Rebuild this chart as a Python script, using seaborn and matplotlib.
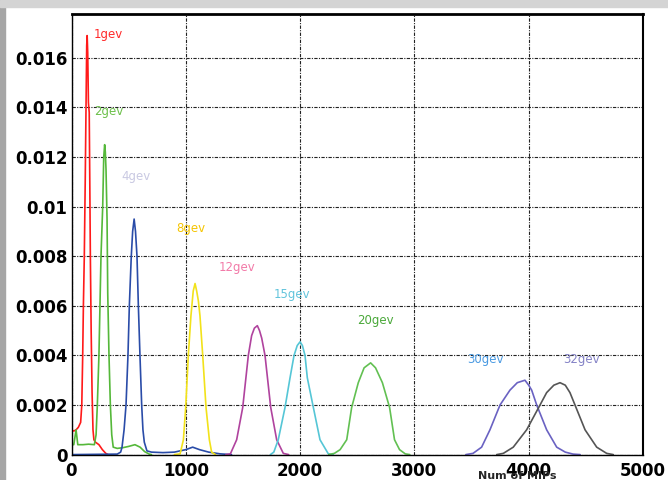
import matplotlib
matplotlib.use("Agg")
import matplotlib.pyplot as plt
import seaborn as sns
import pandas as pd
from matplotlib.patches import Rectangle
from matplotlib.ticker import MultipleLocator

# ---------------- data ----------------
energies = ["1gev", "2gev", "4gev", "8gev", "12gev", "15gev", "20gev", "30gev", "32gev"]

x_1gev = [0, 20, 40, 60, 80, 90, 98, 104, 112, 120, 127, 133, 137, 142, 148, 155, 160, 165, 172, 180, 188, 196, 210, 240, 270, 300, 320]
y_1gev = [0.0010, 0.00095, 0.0010, 0.0011, 0.0013, 0.0020, 0.0040, 0.0060, 0.0080, 0.0110, 0.0140, 0.0165, 0.0169, 0.0162,
          0.0142, 0.0138, 0.0110, 0.0080, 0.0050, 0.0025, 0.0010, 0.0006, 0.0005, 0.0004, 0.0002, 0.00005, 0.0]

x_2gev = [0, 20, 40, 55, 100, 150, 200, 215, 226, 240, 249, 258, 273, 282, 290, 296, 302, 311, 317, 328, 340, 352, 365,
          400, 450, 500, 555, 600, 640, 680, 700]
y_2gev = [0.0004, 0.0004, 0.0010, 0.0004, 0.0004, 0.00042, 0.0004, 0.0008, 0.0020, 0.0040, 0.0060, 0.0080, 0.0100, 0.0120,
          0.0125, 0.0122, 0.0115, 0.0095, 0.0065, 0.0040, 0.0020, 0.0008, 0.0003, 0.00025, 0.00028, 0.00033, 0.00040,
          0.00030, 0.00012, 0.00002, 0.0]

x_4gev = [0, 400, 430, 442, 460, 477, 494, 506, 523, 535, 548, 560, 573, 585, 599, 614, 625, 637, 660, 700, 800, 900,
          1000, 1060, 1120, 1200, 1300, 1400]
y_4gev = [0.0, 0.00002, 0.0001, 0.0003, 0.0010, 0.0020, 0.0040, 0.0060, 0.0080, 0.0090, 0.0095, 0.0090, 0.0080, 0.0060,
          0.0040, 0.0020, 0.0010, 0.0005, 0.00015, 0.0001, 0.00008, 0.0001, 0.0002, 0.0003, 0.0002, 0.0001, 0.00003, 0.0]

x_8gev = [900, 950, 979, 999, 1022, 1045, 1065, 1081, 1095, 1110, 1124, 1148, 1177, 1206, 1226, 1260]
y_8gev = [0.0, 0.00003, 0.0006, 0.0019, 0.0040, 0.0056, 0.0066, 0.0069, 0.0066, 0.0062, 0.0056, 0.0040, 0.0019, 0.0006,
          0.0001, 0.0]

x_12gev = [1350, 1390, 1445, 1498, 1547, 1576, 1600, 1626, 1645, 1664, 1693, 1743, 1795, 1853, 1900]
y_12gev = [0.0, 0.00003, 0.0006, 0.0019, 0.0040, 0.0048, 0.0051, 0.0052, 0.0050, 0.0047, 0.0040, 0.0019, 0.0006,
           0.00005, 0.0]

x_15gev = [1740, 1770, 1809, 1868, 1912, 1947, 1975, 2000, 2020, 2043, 2063, 2116, 2174, 2247, 2290]
y_15gev = [0.0, 0.0001, 0.0006, 0.0019, 0.0031, 0.0040, 0.0044, 0.00455, 0.0044, 0.0040, 0.0031, 0.0019, 0.0006,
           0.00003, 0.0]

x_20gev = [2250, 2300, 2350, 2408, 2451, 2509, 2560, 2617, 2660, 2720, 2783, 2826, 2870, 2920, 2960]
y_20gev = [0.0, 0.00005, 0.0002, 0.0006, 0.0019, 0.0029, 0.0035, 0.0037, 0.0035, 0.0029, 0.0019, 0.0006, 0.0002,
           0.00003, 0.0]

x_30gev = [3450, 3513, 3588, 3661, 3749, 3836, 3900, 3967, 4000, 4026, 4070, 4157, 4245, 4320, 4388, 4450]
y_30gev = [0.0, 0.00005, 0.0003, 0.0010, 0.0020, 0.0026, 0.0029, 0.0030, 0.0028, 0.0026, 0.0020, 0.0010, 0.0003,
           0.0001, 0.00002, 0.0]

x_32gev = [3720, 3778, 3865, 3982, 4099, 4157, 4220, 4274, 4320, 4361, 4405, 4493, 4595, 4682, 4740]
y_32gev = [0.0, 0.00005, 0.0003, 0.0010, 0.0020, 0.0025, 0.0028, 0.0029, 0.0028, 0.0025, 0.0020, 0.0010, 0.0003,
           0.00005, 0.0]

line_colors = ["#ff1a1a", "#55b83a", "#2a4ca8", "#f2e21a", "#b0439e", "#55c6d6", "#62c052", "#6a62c2", "#555555"]
label_colors = ["#ff2a2a", "#6cc04a", "#c9c9e2", "#f5c400", "#f27aa8", "#62c4dc", "#4aa83a", "#4a9ae2", "#8482c6"]
label_x = [197, 200, 439, 920, 1285, 1772, 2495, 3458, 4303]
label_y = [0.01696, 0.01383, 0.01121, 0.0091, 0.00755, 0.00644, 0.0054, 0.00384, 0.00384]

xs = [x_1gev, x_2gev, x_4gev, x_8gev, x_12gev, x_15gev, x_20gev, x_30gev, x_32gev]
ys = [y_1gev, y_2gev, y_4gev, y_8gev, y_12gev, y_15gev, y_20gev, y_30gev, y_32gev]

rows = []
for e, xx, yy in zip(energies, xs, ys):
    for a, b in zip(xx, yy):
        rows.append({"energy": e, "mips": a, "frac": b})
df = pd.DataFrame(rows)

# ---------------- figure ----------------
sns.set_style("white")
plt.rcParams["font.family"] = ["DejaVu Sans"]

fig = plt.figure(figsize=(6.68, 4.80), dpi=100)
fig.patch.set_facecolor("white")
fig.patches.append(Rectangle((0, 0), 5 / 668, 1, transform=fig.transFigure, color="#a6a6a6", zorder=0))
fig.patches.append(Rectangle((0, 1 - 7 / 480), 1, 7 / 480, transform=fig.transFigure, color="#d4d4d4", zorder=0))

ax = fig.add_axes([71.5 / 668, 1 - 454.6 / 480, (643 - 71.5) / 668, (454.6 - 14) / 480])

sns.lineplot(data=df, x="mips", y="frac", hue="energy", hue_order=energies,
             palette=dict(zip(energies, line_colors)), estimator=None, sort=False,
             legend=False, linewidth=1.2, ax=ax)

ax.set_xlim(0, 5000)
ax.set_ylim(0, 0.01777)
ax.xaxis.set_major_locator(MultipleLocator(1000))
ax.xaxis.set_minor_locator(MultipleLocator(200))
ax.yaxis.set_major_locator(MultipleLocator(0.002))
ax.yaxis.set_minor_locator(MultipleLocator(0.0005))
ax.set_yticks([0, 0.002, 0.004, 0.006, 0.008, 0.01, 0.012, 0.014, 0.016])
ax.set_yticklabels(["0", "0.002", "0.004", "0.006", "0.008", "0.01", "0.012", "0.014", "0.016"])
ax.set_xticks([0, 1000, 2000, 3000, 4000, 5000])
ax.set_xticklabels(["0", "1000", "2000", "3000", "4000", "5000"])

ax.tick_params(axis="both", which="both", direction="in", colors="#333333")
ax.tick_params(axis="both", which="major", length=8, width=1, labelsize=12, labelcolor="black", pad=3)
ax.tick_params(axis="both", which="minor", length=4, width=1)
ax.tick_params(axis="x", which="major", pad=5)
for lab in ax.get_xticklabels() + ax.get_yticklabels():
    lab.set_fontweight("bold")

ax.grid(True, which="major", color="#222222", linestyle=(0, (3, 1.2, 1, 1.2)), linewidth=0.8)
ax.set_axisbelow(True)

for s, w in zip(["top", "right", "left", "bottom"], [2.0, 1.5, 1.0, 1.0]):
    ax.spines[s].set_visible(True)
    ax.spines[s].set_color("black")
    ax.spines[s].set_linewidth(w)

ax.set_ylabel("")
ax.set_xlabel("Num of MIPs", fontsize=8, fontweight="bold")
ax.xaxis.set_label_coords((517.5 - 71.5) / 571.5, -(476 - 454.6) / 440.6)
ax.xaxis.label.set_va("center")

for e, c, lx, ly in zip(energies, label_colors, label_x, label_y):
    ax.text(lx, ly, e, color=c, fontsize=8.5, ha="left", va="center")

fig.savefig("out.png", dpi=100)
